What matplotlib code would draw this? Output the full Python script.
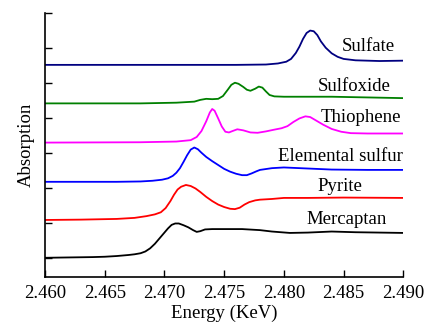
import numpy as np
import matplotlib
matplotlib.use("Agg")
import matplotlib.pyplot as plt

plt.rcParams['font.family'] = ['Liberation Serif', 'DejaVu Serif']

# Data (energy in KeV, stacked absorption in tick units)
mercaptan_e = [2.460, 2.462, 2.464, 2.465, 2.466, 2.467, 2.4675, 2.468, 2.4684, 2.4688,
               2.4692, 2.4696, 2.4700, 2.4703, 2.4706, 2.4709, 2.4712, 2.4716, 2.4720, 2.4724,
               2.4727, 2.4730, 2.4734, 2.474, 2.475, 2.4765, 2.478, 2.479, 2.4805, 2.482,
               2.484, 2.486, 2.488, 2.490]
mercaptan_y = [0.0, 0.01, 0.02, 0.03, 0.05, 0.08, 0.1, 0.13, 0.18, 0.27,
               0.4, 0.56, 0.72, 0.84, 0.94, 0.98, 0.98, 0.93, 0.87, 0.79,
               0.74, 0.76, 0.81, 0.82, 0.82, 0.82, 0.79, 0.75, 0.71, 0.72,
               0.75, 0.73, 0.72, 0.71]

pyrite_e = [2.460, 2.463, 2.466, 2.4675, 2.4685, 2.4692, 2.4697, 2.4701, 2.4705, 2.4708,
            2.4711, 2.4714, 2.4718, 2.4722, 2.4726, 2.4730, 2.4735, 2.474, 2.4745, 2.475,
            2.4755, 2.4759, 2.4763, 2.4767, 2.4771, 2.4776, 2.478, 2.479, 2.480, 2.482,
            2.485, 2.490]
pyrite_y = [1.08, 1.09, 1.11, 1.14, 1.19, 1.24, 1.3, 1.42, 1.62, 1.8,
            1.95, 2.03, 2.08, 2.05, 1.98, 1.88, 1.74, 1.62, 1.52, 1.45,
            1.4, 1.39, 1.43, 1.52, 1.59, 1.64, 1.66, 1.68, 1.71, 1.71,
            1.72, 1.71]

sulfur_e = [2.460, 2.466, 2.468, 2.469, 2.4698, 2.4703, 2.4707, 2.4710, 2.4713, 2.4716,
            2.4719, 2.4722, 2.4725, 2.4728, 2.4731, 2.4735, 2.474, 2.4745, 2.475, 2.4755,
            2.476, 2.4765, 2.4769, 2.4773, 2.4777, 2.478, 2.479, 2.480, 2.482, 2.484,
            2.487, 2.490]
sulfur_y = [2.17, 2.17, 2.18, 2.2, 2.23, 2.27, 2.34, 2.43, 2.56, 2.74,
            2.93, 3.09, 3.15, 3.1, 3.0, 2.88, 2.76, 2.65, 2.54, 2.46,
            2.4, 2.36, 2.36, 2.41, 2.47, 2.51, 2.56, 2.58, 2.55, 2.52,
            2.51, 2.51]

thio_e = [2.460, 2.468, 2.471, 2.4722, 2.4727, 2.4731, 2.4735, 2.4738, 2.4740, 2.4742,
          2.4745, 2.4748, 2.4751, 2.4754, 2.4757, 2.4761, 2.4766, 2.4772, 2.4778, 2.4785,
          2.4792, 2.4798, 2.4803, 2.4808, 2.4813, 2.4818, 2.4822, 2.4827, 2.4833, 2.484,
          2.4848, 2.4856, 2.487, 2.490]
thio_y = [3.29, 3.3, 3.32, 3.36, 3.45, 3.62, 3.9, 4.15, 4.25, 4.2,
          3.98, 3.75, 3.6, 3.58, 3.62, 3.67, 3.64, 3.58, 3.57, 3.61,
          3.66, 3.7, 3.76, 3.88, 3.98, 4.04, 4.02, 3.92, 3.8, 3.68,
          3.6, 3.56, 3.55, 3.55]

sulfox_e = [2.460, 2.468, 2.471, 2.4725, 2.473, 2.4735, 2.474, 2.4745, 2.4749, 2.4753,
            2.4756, 2.4759, 2.4762, 2.4766, 2.4769, 2.4772, 2.4776, 2.4779, 2.4782, 2.4785,
            2.4788, 2.4792, 2.480, 2.484, 2.487, 2.490]
sulfox_y = [4.41, 4.41, 4.43, 4.46, 4.51, 4.54, 4.53, 4.54, 4.62, 4.8,
            4.94, 5.0, 4.97, 4.88, 4.8, 4.77, 4.83, 4.89, 4.86, 4.75,
            4.65, 4.61, 4.6, 4.6, 4.58, 4.56]

sulfate_e = [2.460, 2.476, 2.4785, 2.4795, 2.4802, 2.4806, 2.481, 2.4813, 2.4816, 2.4819,
             2.4822, 2.4825, 2.4828, 2.4831, 2.4835, 2.484, 2.4845, 2.485, 2.486, 2.488,
             2.490]
sulfate_y = [5.51, 5.51, 5.52, 5.55, 5.6, 5.68, 5.85, 6.03, 6.25, 6.42,
             6.49, 6.47, 6.36, 6.18, 6.0, 5.84, 5.74, 5.68, 5.64, 5.62,
             5.63]

series = [
    (mercaptan_e, mercaptan_y, 'black', 'Mercaptan', 2.4886, 1.1),
    (pyrite_e, pyrite_y, '#ff0000', 'Pyrite', 2.4866, 2.05),
    (sulfur_e, sulfur_y, '#0000ff', 'Elemental sulfur', 2.4900, 2.88),
    (thio_e, thio_y, '#ff00ff', 'Thiophene', 2.4898, 4.02),
    (sulfox_e, sulfox_y, '#008000', 'Sulfoxide', 2.4889, 4.88),
    (sulfate_e, sulfate_y, '#000080', 'Sulfate', 2.4893, 6.04),
]

fig = plt.figure(figsize=(4.31, 3.24), dpi=100)
ax = fig.add_axes([0.1044, 0.146, 0.8314, 0.8148])

for e, y, c, name, lx, ly in series:
    ax.plot(e, y, color=c, lw=1.3)
    ax.text(lx, ly, name, ha='right', va='center', fontsize=13.5)

ax.set_xlim(2.460, 2.490)
ax.set_ylim(-0.54, 7.0)
ax.set_xticks(np.arange(2.460, 2.4901, 0.005))
ax.set_xticklabels(['2.460', '2.465', '2.470', '2.475', '2.480', '2.485', '2.490'])
ax.set_yticks(range(8))
ax.set_yticklabels([])
ax.tick_params(direction='in', length=5, width=1, labelsize=13.5, pad=6)
ax.spines['top'].set_visible(False)
ax.spines['right'].set_visible(False)
for s in ['left', 'bottom']:
    ax.spines[s].set_linewidth(1.2)

ax.set_xlabel('Energy (KeV)', fontsize=13.5, labelpad=2)
ax.set_ylabel('Absorption', fontsize=13.5, labelpad=1)

fig.savefig('out.png', dpi=100)
